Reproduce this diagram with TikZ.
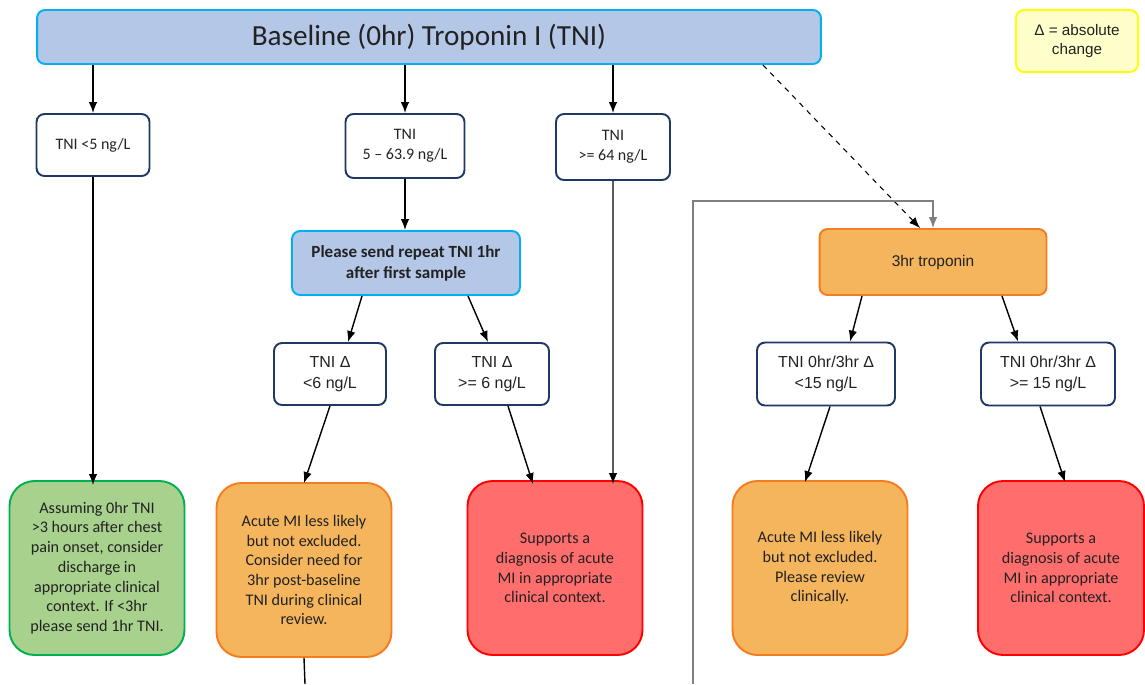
\documentclass[tikz,border=0pt]{standalone}
\usepackage{fontspec}
\setmainfont{Carlito}
\newfontfamily\robfont{Liberation Sans}
\usetikzlibrary{arrows.meta}
\definecolor{bannerblue}{HTML}{B4C7E7}
\definecolor{skyline}{HTML}{00B0F0}
\definecolor{navyline}{HTML}{203864}
\definecolor{leafgreen}{HTML}{A9D18E}
\definecolor{greenline}{HTML}{00B050}
\definecolor{amber}{HTML}{F4B55C}
\definecolor{amberline}{HTML}{F57C1F}
\definecolor{salmon}{HTML}{FF6D6D}
\definecolor{redline}{HTML}{FF0000}
\definecolor{paleyellow}{HTML}{FFFFCC}
\definecolor{yellowline}{HTML}{FFFF00}
\definecolor{inktext}{HTML}{222222}
\tikzset{
  box/.style={draw=navyline,line width=1.1pt,rounded corners=0.16cm,fill=white,
    align=center,text=inktext,inner sep=1pt,font=\fontsize{9.1}{11.3}\selectfont},
  robbox/.style={box,font=\robfont\fontsize{9.1}{11.8}\selectfont},
  bluebox/.style={box,draw=skyline,fill=bannerblue},
  endbox/.style={box,rounded corners=0.5cm,minimum width=3.5cm,minimum height=3.48cm,
    font=\fontsize{9.2}{11.2}\selectfont},
  greenbox/.style={endbox,draw=greenline,fill=leafgreen},
  amberbox/.style={endbox,draw=amberline,fill=amber},
  redbox/.style={endbox,draw=redline,fill=salmon},
  link/.style={->,line width=0.8pt,black},
}
\begin{document}
\begin{tikzpicture}[x=0.02cm,y=-0.02cm,>={Latex[length=2.2mm,width=1.7mm]}]
\useasboundingbox (0,0) rectangle (1145,684);
% top row
\node[bluebox,minimum width=15.68cm,minimum height=1.08cm,font=\fontsize{16.6}{19}\selectfont] (banner) at (429,37) {Baseline (0hr) Troponin I (TNI)};
\node[robbox,draw=yellowline,fill=paleyellow,minimum width=2.44cm,minimum height=1.24cm,font=\robfont\fontsize{8.7}{11.3}\selectfont] (delta) at (1077,41) {Δ = absolute\\change};
\node[box,minimum width=2.26cm,minimum height=1.24cm] (lowfive) at (93,145) {TNI <5 ng/L};
\node[box,minimum width=2.38cm,minimum height=1.28cm] (midrange) at (405,146) {TNI\\5 -- 63.9 ng/L};
\node[box,minimum width=2.28cm,minimum height=1.32cm] (highsix) at (613,147) {TNI\\>= 64 ng/L};
% one hour branch
\node[bluebox,minimum width=4.56cm,minimum height=1.28cm,font=\bfseries\fontsize{9.7}{12}\selectfont] (repeat) at (406,263) {Please send repeat TNI 1hr\\after first sample};
\node[robbox,minimum width=2.24cm,minimum height=1.24cm] (dlow) at (330,374) {TNI Δ\\<6 ng/L};
\node[robbox,minimum width=2.28cm,minimum height=1.24cm] (dhigh) at (492,374) {TNI Δ\\>= 6 ng/L};
% three hour branch
\node[robbox,draw=amberline,fill=amber,minimum width=4.54cm,minimum height=1.32cm,font=\robfont\fontsize{8.8}{11}\selectfont] (threehr) at (933,262) {3hr troponin};
\node[robbox,minimum width=2.76cm,minimum height=1.26cm] (tlow) at (826,374) {TNI 0hr/3hr Δ\\<15 ng/L};
\node[robbox,minimum width=2.68cm,minimum height=1.26cm] (thigh) at (1048,374) {TNI 0hr/3hr Δ\\>= 15 ng/L};
% outcomes
\node[greenbox] (discharge) at (97,568) {Assuming 0hr TNI\\>3 hours after chest\\pain onset, consider\\discharge in\\appropriate clinical\\context. If <3hr\\please send 1hr TNI.};
\node[amberbox] (lesslikely) at (304,570) {Acute MI less likely\\but not excluded.\\Consider need for\\3hr post-baseline\\TNI during clinical\\review.};
\node[redbox] (acutemi) at (555,568) {Supports a\\diagnosis of acute\\MI in appropriate\\clinical context.};
\node[amberbox] (review) at (820,568) {Acute MI less likely\\but not excluded.\\Please review\\clinically.};
\node[redbox,minimum width=3.32cm] (acutemitwo) at (1061,568) {Supports a\\diagnosis of acute\\MI in appropriate\\clinical context.};
\coordinate (loopin) at (693,684);
\coordinate (loopbend) at (693,201);
\coordinate (stubend) at (305,684);
% connectors
\draw[link] (banner.south -| lowfive.north) -- (lowfive.north);
\draw[link] (banner.south -| midrange.north) -- (midrange.north);
\draw[link] (banner.south -| highsix.north) -- (highsix.north);
\draw[link,line width=0.6pt,dashed] ([xshift=6.68cm]banner.south) -- ([xshift=-0.26cm]threehr.north);
\draw[link,line width=0.7pt,gray] (loopin) -- (loopbend) -| (threehr.north);
\draw[link] (midrange.south) -- (midrange.south |- repeat.north);
\draw[link] ([xshift=-0.88cm]repeat.south) -- ([xshift=0.36cm]dlow.north);
\draw[link] ([xshift=1.24cm]repeat.south) -- ([xshift=-0.08cm]dhigh.north);
\draw[link] ([xshift=-1.42cm]threehr.south) -- ([xshift=0.48cm]tlow.north);
\draw[link] ([xshift=1.38cm]threehr.south) -- ([xshift=-0.6cm]thigh.north);
\draw[link] (lowfive.south) -- ([yshift=-0.1cm]lowfive.south |- discharge.north);
\draw[link] (dlow.south) -- ([yshift=-0.02cm]lesslikely.north);
\draw[link] ([xshift=0.32cm]dhigh.south) -- ([xshift=-0.44cm,yshift=-0.08cm]acutemi.north);
\draw[link] (highsix.south) -- ([xshift=1.16cm,yshift=-0.08cm]acutemi.north);
\draw[link] ([xshift=0.08cm]tlow.south) -- ([xshift=-0.3cm,yshift=-0.04cm]review.north);
\draw[link] ([xshift=-0.16cm]thigh.south) -- ([xshift=0.08cm,yshift=-0.04cm]acutemitwo.north);
\draw[line width=0.8pt] (lesslikely.south) -- (stubend);
\end{tikzpicture}
\end{document}
